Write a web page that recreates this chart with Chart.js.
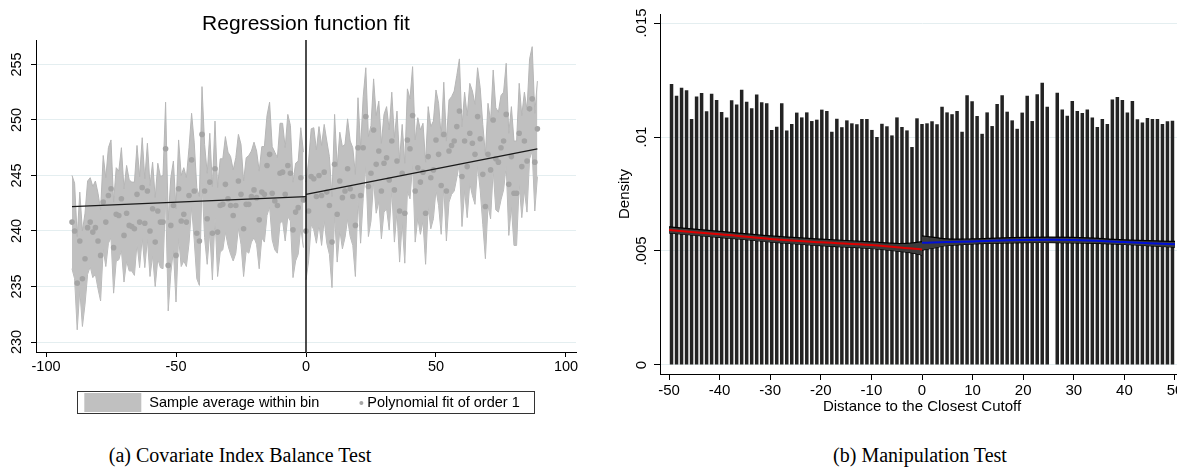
<!DOCTYPE html>
<html>
<head>
<meta charset="utf-8">
<script src="https://cdn.jsdelivr.net/npm/chart.js@4.4.1/dist/chart.umd.min.js"></script>
<style>
html, body { margin: 0; padding: 0; background: #fff; width: 1177px; height: 476px; overflow: hidden; position: relative; }
#chartA { position: absolute; left: 0; top: 0; }
#chartB { position: absolute; left: 600px; top: 0; }
.caption { position: absolute; top: 444px; font-family: "Liberation Serif", serif; font-size: 20px; color: #000; text-align: center; white-space: nowrap; }
</style>
</head>
<body>
<canvas id="chartA" width="612" height="430"></canvas>
<canvas id="chartB" width="600" height="430"></canvas>
<div class="caption" style="left:40px;width:400px">(a) Covariate Index Balance Test</div>
<div class="caption" style="left:720px;width:400px">(b) Manipulation Test</div>
<script>
// ---- panel (a): regression discontinuity plot ----
const titleA = 'Regression function fit';
const legendLabelsA = ['Sample average within bin', 'Polynomial fit of order 1'];
const xTicksA = [-100, -50, 0, 50, 100];
const xTickLabelsA = ['-100', '-50', '0', '50', '100'];
const yTicksA = [230, 235, 240, 245, 250, 255];
const yTickLabelsA = ['230', '235', '240', '245', '250', '255'];

const xBinsA = [-90,-89,-88,-87,-86,-85,-84,-83,-82,-81,-80,-79,-78,-77,-76,-75,-74,-73,-72,-71,
  -70,-69,-68,-67,-66,-65,-64,-63,-62,-61,-60,-59,-58,-57,-56,-55,-54,-53,-52,-51,
  -50,-49,-48,-47,-46,-45,-44,-43,-42,-41,-40,-39,-38,-37,-36,-35,-34,-33,-32,-31,
  -30,-29,-28,-27,-26,-25,-24,-23,-22,-21,-20,-19,-18,-17,-16,-15,-14,-13,-12,-11,
  -10,-9,-8,-7,-6,-5,-4,-3,-2,-1,0,1,2,3,4,5,6,7,8,9,
  10,11,12,13,14,15,16,17,18,19,20,21,22,23,24,25,26,27,28,29,
  30,31,32,33,34,35,36,37,38,39,40,41,42,43,44,45,46,47,48,49,
  50,51,52,53,54,55,56,57,58,59,60,61,62,63,64,65,66,67,68,69,
  70,71,72,73,74,75,76,77,78,79,80,81,82,83,84,85,86,87,88,89];

const meansA = [240.8,240.0,235.3,239.1,235.7,237.5,240.3,240.8,239.9,240.3,
  239.1,237.8,242.6,240.8,243.2,243.8,238.5,241.5,241.4,242.9,
  239.6,241.6,240.5,240.4,240.2,243.3,240.8,243.9,240.7,243.6,
  240.0,242.0,239.0,241.8,240.8,240.8,247.4,236.9,240.5,242.3,
  237.8,243.8,240.9,241.5,240.8,243.2,246.4,243.6,239.8,239.1,
  248.7,243.6,241.1,244.4,239.8,245.6,239.9,242.3,242.4,244.2,
  242.9,242.3,241.4,242.3,244.5,243.3,240.2,242.4,242.4,243.1,
  243.7,243.0,241.0,243.5,243.3,245.9,246.9,243.4,242.7,242.3,
  245.2,245.3,243.3,245.9,245.2,240.1,241.7,242.1,244.8,242.8,
  240.0,241.8,244.9,244.7,243.1,245.0,243.2,245.3,243.5,242.3,
  239.0,246.0,241.5,244.5,243.0,243.6,245.6,243.8,243.1,240.5,
  247.5,243.2,247.5,250.3,244.0,245.2,249.1,246.0,247.2,243.6,
  246.1,246.6,244.6,248.1,243.7,246.3,241.8,245.2,241.6,248.2,
  247.4,250.4,243.6,245.7,244.4,245.3,241.6,246.7,244.8,245.5,
  248.2,246.9,244.1,248.7,243.6,247.2,247.7,248.1,249.4,250.8,
  244.9,248.1,245.8,248.8,247.9,246.9,250.3,248.3,245.1,242.2,
  246.9,245.5,250.0,246.5,246.2,247.5,248.1,250.5,244.2,246.7,
  243.4,243.4,248.8,245.8,248.1,246.3,251.0,251.9,246.2,249.2];

// half width of the shaded interval around each bin average
const ciHalfA = [4.2,4.3,4.2,4.4,4.3,4.1,4.2,4.0,4.1,4.2,
  4.3,4.1,4.2,4.0,4.3,4.4,4.1,4.2,4.0,4.6,
  4.2,4.3,4.1,4.0,4.2,4.4,4.1,4.5,4.0,4.3,
  4.1,4.2,4.0,4.3,4.1,4.2,4.2,4.1,4.3,4.0,
  4.2,4.4,4.1,4.2,4.0,4.3,4.2,4.4,4.1,4.0,
  4.3,4.2,4.1,4.4,4.2,4.3,4.0,4.2,4.1,4.3,
  4.2,4.4,4.1,4.3,4.2,4.5,4.3,4.2,4.4,4.1,
  4.3,4.2,4.4,4.1,4.3,4.5,4.7,4.2,4.4,4.3,
  4.5,4.4,4.2,4.6,4.3,4.3,4.4,4.2,4.5,4.3,
  4.4,4.5,4.3,4.6,4.2,4.4,4.5,4.3,4.6,4.4,
  4.1,4.5,4.3,4.4,4.6,4.2,4.5,4.3,4.4,4.6,
  4.5,4.3,4.6,4.4,4.5,4.3,4.6,4.4,4.5,4.3,
  4.4,4.6,4.5,4.4,4.7,4.5,4.6,4.4,4.5,4.6,
  4.5,4.4,4.6,4.5,4.7,4.4,4.6,4.5,4.6,4.4,
  4.5,4.6,4.4,4.7,4.5,4.6,4.4,4.5,4.6,4.7,
  4.5,4.4,4.6,4.5,4.7,4.5,4.4,4.6,4.5,4.7,
  4.6,4.4,4.5,4.6,4.5,4.7,4.4,4.6,4.6,4.5,
  4.7,4.7,4.5,4.6,4.4,4.6,4.5,4.7,4.4,4.3];

const fitLeftX = [-90, 0];
const fitLeftY = [242.2, 243.1];
const fitRightX = [0, 89];
const fitRightY = [243.3, 247.4];
const cutoffA = 0;

// ---- panel (b): density / manipulation test ----
const xTitleB = 'Distance to the Closest Cutoff';
const yTitleB = 'Density';
const xTicksB = [-50, -40, -30, -20, -10, 0, 10, 20, 30, 40, 50];
const xTickLabelsB = ['-50', '-40', '-30', '-20', '-10', '0', '10', '20', '30', '40', '50'];
const yTicksB = [0, 0.005, 0.01, 0.015];
const yTickLabelsB = ['0', '.005', '.01', '.015'];

const binCentersB = [-49.5,-48.51,-47.52,-46.53,-45.54,-44.55,-43.56,-42.57,-41.58,-40.59,
  -39.6,-38.61,-37.62,-36.63,-35.64,-34.65,-33.66,-32.67,-31.68,-30.69,
  -29.7,-28.71,-27.72,-26.73,-25.74,-24.75,-23.76,-22.77,-21.78,-20.79,
  -19.8,-18.81,-17.82,-16.83,-15.84,-14.85,-13.86,-12.87,-11.88,-10.89,
  -9.9,-8.91,-7.92,-6.93,-5.94,-4.95,-3.96,-2.97,-1.98,-0.99,
  0,0.99,1.98,2.97,3.96,4.95,5.94,6.93,7.92,8.91,
  9.9,10.89,11.88,12.87,13.86,14.85,15.84,16.83,17.82,18.81,
  19.8,20.79,21.78,22.77,23.76,24.75,25.74,26.73,27.72,28.71,
  29.7,30.69,31.68,32.67,33.66,34.65,35.64,36.63,37.62,38.61,
  39.6,40.59,41.58,42.57,43.56,44.55,45.54,46.53,47.52,48.51,
  49.5];

const densityB = [0.01232,0.01181,0.01216,0.01205,0.01079,0.01178,0.01193,0.01113,0.0119,0.01162,
  0.0111,0.01086,0.01161,0.01143,0.01207,0.01155,0.01126,0.01186,0.01152,0.01148,
  0.01031,0.01045,0.01148,0.01028,0.01057,0.01107,0.01086,0.01108,0.0107,0.01076,
  0.0112,0.01114,0.01023,0.0108,0.01043,0.01073,0.0106,0.01056,0.01079,0.01079,
  0.01031,0.01,0.01058,0.01047,0.01007,0.01086,0.01044,0.01029,0.00956,0.01082,
  0.01057,0.0106,0.01069,0.01056,0.01133,0.01108,0.011,0.01114,0.01023,0.01183,
  0.01157,0.01092,0.01014,0.01108,0.01048,0.01145,0.01183,0.01111,0.01073,0.01036,
  0.01107,0.01181,0.0107,0.01187,0.01238,0.01133,0,0.01194,0.01121,0.01093,
  0.01158,0.01114,0.01105,0.01121,0.01086,0.01044,0.01079,0.01057,0.01165,0.01175,
  0.01162,0.01107,0.01158,0.01078,0.01064,0.01083,0.01079,0.01079,0.01057,0.01069,
  0.01071];

const densLeftX = [-50, -40, -30, -20, -10, -5, -2, 0];
const densLeftY = [0.00592, 0.00573, 0.00553, 0.00538, 0.00526, 0.00516, 0.00511, 0.00507];
const densLeftHi = [0.00606, 0.00586, 0.00566, 0.00552, 0.0054, 0.00533, 0.00535, 0.00541];
const densLeftLo = [0.00579, 0.0056, 0.0054, 0.00524, 0.00511, 0.005, 0.00492, 0.00482];
const densRightX = [0, 2, 5, 10, 20, 30, 40, 50];
const densRightY = [0.00536, 0.00537, 0.00539, 0.00542, 0.00548, 0.00548, 0.00539, 0.0053];
const densRightHi = [0.00566, 0.00561, 0.00553, 0.00553, 0.0056, 0.0056, 0.00549, 0.00542];
const densRightLo = [0.00504, 0.00512, 0.00524, 0.00531, 0.00537, 0.00536, 0.00529, 0.00517];

// axis ranges (Stata leaves a small margin beyond the outer ticks)
const xMinA = -103.85, xMaxA = 103.85, yMinA = 229.1, yMaxA = 257.2;
const xMinB = -51.78, xMaxB = 51.78, yMinB = -0.000395, yMaxB = 0.015395;

const fontFamily = '"Liberation Sans", Arial, Helvetica, sans-serif';
const gridColor = '#e4eef0';
Chart.defaults.font.family = fontFamily;
Chart.defaults.color = '#000';
Chart.defaults.animation = false;

function pts(xs, ys)
{
    return xs.map((x, i) => ({ x: x, y: ys[i] }));
}

const bandLoL = [], bandHiL = [], bandLoR = [], bandHiR = [];
xBinsA.forEach((x, i) =>
{
    const lo = { x: x, y: meansA[i] - ciHalfA[i] };
    const hi = { x: x, y: meansA[i] + ciHalfA[i] };
    if (x < cutoffA) { bandLoL.push(lo); bandHiL.push(hi); }
    else { bandLoR.push(lo); bandHiR.push(hi); }
});

const extrasA = {
    id: 'extrasA',
    afterDraw(chart)
    {
        const ctx = chart.ctx;
        const area = chart.chartArea;
        const cx = (area.left + area.right) / 2;
        ctx.save();
        ctx.fillStyle = '#000';
        ctx.textAlign = 'center';
        ctx.textBaseline = 'middle';
        ctx.font = '21px ' + fontFamily;
        ctx.fillText(titleA, cx, 24);

        // legend box
        ctx.font = '14.5px ' + fontFamily;
        const w1 = ctx.measureText(legendLabelsA[0]).width;
        const w2 = ctx.measureText(legendLabelsA[1]).width;
        const total = 7 + 57 + 8 + w1 + 42 + 6 + w2 + 15;
        const left = cx - total / 2;
        const top = area.bottom + 39;
        const h = 22;
        ctx.strokeStyle = '#333';
        ctx.lineWidth = 1;
        ctx.strokeRect(Math.round(left) + 0.5, Math.round(top) + 0.5, Math.round(total), h);
        ctx.fillStyle = '#c0c0c0';
        ctx.fillRect(left + 7, top + 2, 57, h - 3);
        ctx.fillStyle = '#000';
        ctx.textAlign = 'left';
        let x = left + 7 + 57 + 8;
        ctx.fillText(legendLabelsA[0], x, top + h / 2 + 1);
        x += w1 + 42;
        ctx.fillStyle = '#a6a6a6';
        ctx.beginPath();
        ctx.arc(x, top + h / 2 + 1, 2, 0, Math.PI * 2);
        ctx.fill();
        ctx.fillStyle = '#000';
        ctx.fillText(legendLabelsA[1], x + 6, top + h / 2 + 1);
        ctx.restore();
    }
};

new Chart(document.getElementById('chartA'), {
    type: 'line',
    data: {
        datasets: [
            { data: pts(fitLeftX, fitLeftY), borderColor: '#1a1a1a', borderWidth: 1.3, pointRadius: 0, fill: false },
            { data: pts(fitRightX, fitRightY), borderColor: '#1a1a1a', borderWidth: 1.3, pointRadius: 0, fill: false },
            { data: [{ x: cutoffA, y: yMinA }, { x: cutoffA, y: yMaxA }], borderColor: '#000', borderWidth: 1.4, pointRadius: 0, fill: false },
            { type: 'scatter', data: pts(xBinsA, meansA), backgroundColor: '#a4a4a4', borderWidth: 0, pointRadius: 2.8 },
            { data: bandHiL, fill: '+1', backgroundColor: '#c0c0c0', borderColor: '#b6b6b6', borderWidth: 1, pointRadius: 0 },
            { data: bandLoL, fill: false, borderColor: '#b6b6b6', borderWidth: 1, pointRadius: 0 },
            { data: bandHiR, fill: '+1', backgroundColor: '#c0c0c0', borderColor: '#b6b6b6', borderWidth: 1, pointRadius: 0 },
            { data: bandLoR, fill: false, borderColor: '#b6b6b6', borderWidth: 1, pointRadius: 0 }
        ]
    },
    options: {
        responsive: false,
        animation: false,
        layout: { padding: { left: 0, right: 36, top: 40, bottom: 38 } },
        plugins: { legend: { display: false }, tooltip: { enabled: false } },
        scales: {
            x: {
                type: 'linear', min: xMinA, max: xMaxA, offset: false,
                afterBuildTicks: s => { s.ticks = xTicksA.map(v => ({ value: v })); },
                afterFit: s => { s.height = 40; },
                grid: { drawOnChartArea: false, drawTicks: true, tickLength: 5, tickColor: '#000' },
                border: { display: true, color: '#000', width: 1 },
                ticks: { font: { size: 14.5 }, color: '#000', padding: 1, maxRotation: 0, autoSkip: false, callback: (v, i) => xTickLabelsA[i] }
            },
            y: {
                type: 'linear', min: yMinA, max: yMaxA,
                afterBuildTicks: s => { s.ticks = yTicksA.map(v => ({ value: v })); },
                afterFit: s => { s.width = 36; },
                grid: { color: gridColor, lineWidth: 1, drawTicks: true, tickLength: 5, tickColor: '#000' },
                border: { display: true, color: '#000', width: 1 },
                ticks: { font: { size: 14.5 }, color: '#000', padding: 2, minRotation: 90, maxRotation: 90, crossAlign: 'center', autoSkip: false, callback: (v, i) => yTickLabelsA[i] }
            }
        }
    },
    plugins: [extrasA]
});

new Chart(document.getElementById('chartB'), {
    type: 'line',
    data: {
        datasets: [
            { data: pts(densLeftX, densLeftY), borderColor: '#e00000', borderWidth: 2, pointRadius: 0, tension: 0.4, fill: false },
            { data: pts(densRightX, densRightY), borderColor: '#0010d8', borderWidth: 2, pointRadius: 0, tension: 0.4, fill: false },
            { data: pts(densLeftX, densLeftHi), fill: '+1', backgroundColor: '#3c3c3c', borderColor: '#000', borderWidth: 1.2, pointRadius: 0, tension: 0.4 },
            { data: pts(densLeftX, densLeftLo), fill: false, borderColor: '#000', borderWidth: 1.2, pointRadius: 0, tension: 0.4 },
            { data: pts(densRightX, densRightHi), fill: '+1', backgroundColor: '#3c3c3c', borderColor: '#000', borderWidth: 1.2, pointRadius: 0, tension: 0.4 },
            { data: pts(densRightX, densRightLo), fill: false, borderColor: '#000', borderWidth: 1.2, pointRadius: 0, tension: 0.4 },
            { type: 'bar', data: pts(binCentersB, densityB), backgroundColor: '#232323', borderWidth: 0, barPercentage: 0.7, categoryPercentage: 1 }
        ]
    },
    options: {
        responsive: false,
        animation: false,
        layout: { padding: { left: 0, right: 16, top: 14, bottom: 14 } },
        plugins: { legend: { display: false }, tooltip: { enabled: false } },
        scales: {
            x: {
                type: 'linear', min: xMinB, max: xMaxB, offset: false,
                afterBuildTicks: s => { s.ticks = xTicksB.map(v => ({ value: v })); },
                afterFit: s => { s.height = 42; },
                grid: { offset: false, drawOnChartArea: false, drawTicks: true, tickLength: 6, tickColor: '#000' },
                border: { display: true, color: '#000', width: 1 },
                title: { display: true, text: xTitleB, font: { size: 15 }, color: '#000', padding: { top: 0, bottom: 0.6 } },
                ticks: { font: { size: 15 }, color: '#000', padding: 2, maxRotation: 0, autoSkip: false, callback: (v, i) => xTickLabelsB[i] }
            },
            y: {
                type: 'linear', min: yMinB, max: yMaxB,
                afterBuildTicks: s => { s.ticks = yTicksB.map(v => ({ value: v })); },
                afterFit: s => { s.width = 60; },
                grid: { color: gridColor, lineWidth: 1, drawTicks: true, tickLength: 6, tickColor: '#000' },
                border: { display: true, color: '#000', width: 1 },
                title: { display: true, text: yTitleB, font: { size: 15 }, color: '#000', padding: { top: 16, bottom: 0 } },
                ticks: { font: { size: 15 }, color: '#000', padding: -2.6, minRotation: 90, maxRotation: 90, crossAlign: 'center', autoSkip: false, callback: (v, i) => yTickLabelsB[i] }
            }
        }
    }
});
</script>
</body>
</html>
